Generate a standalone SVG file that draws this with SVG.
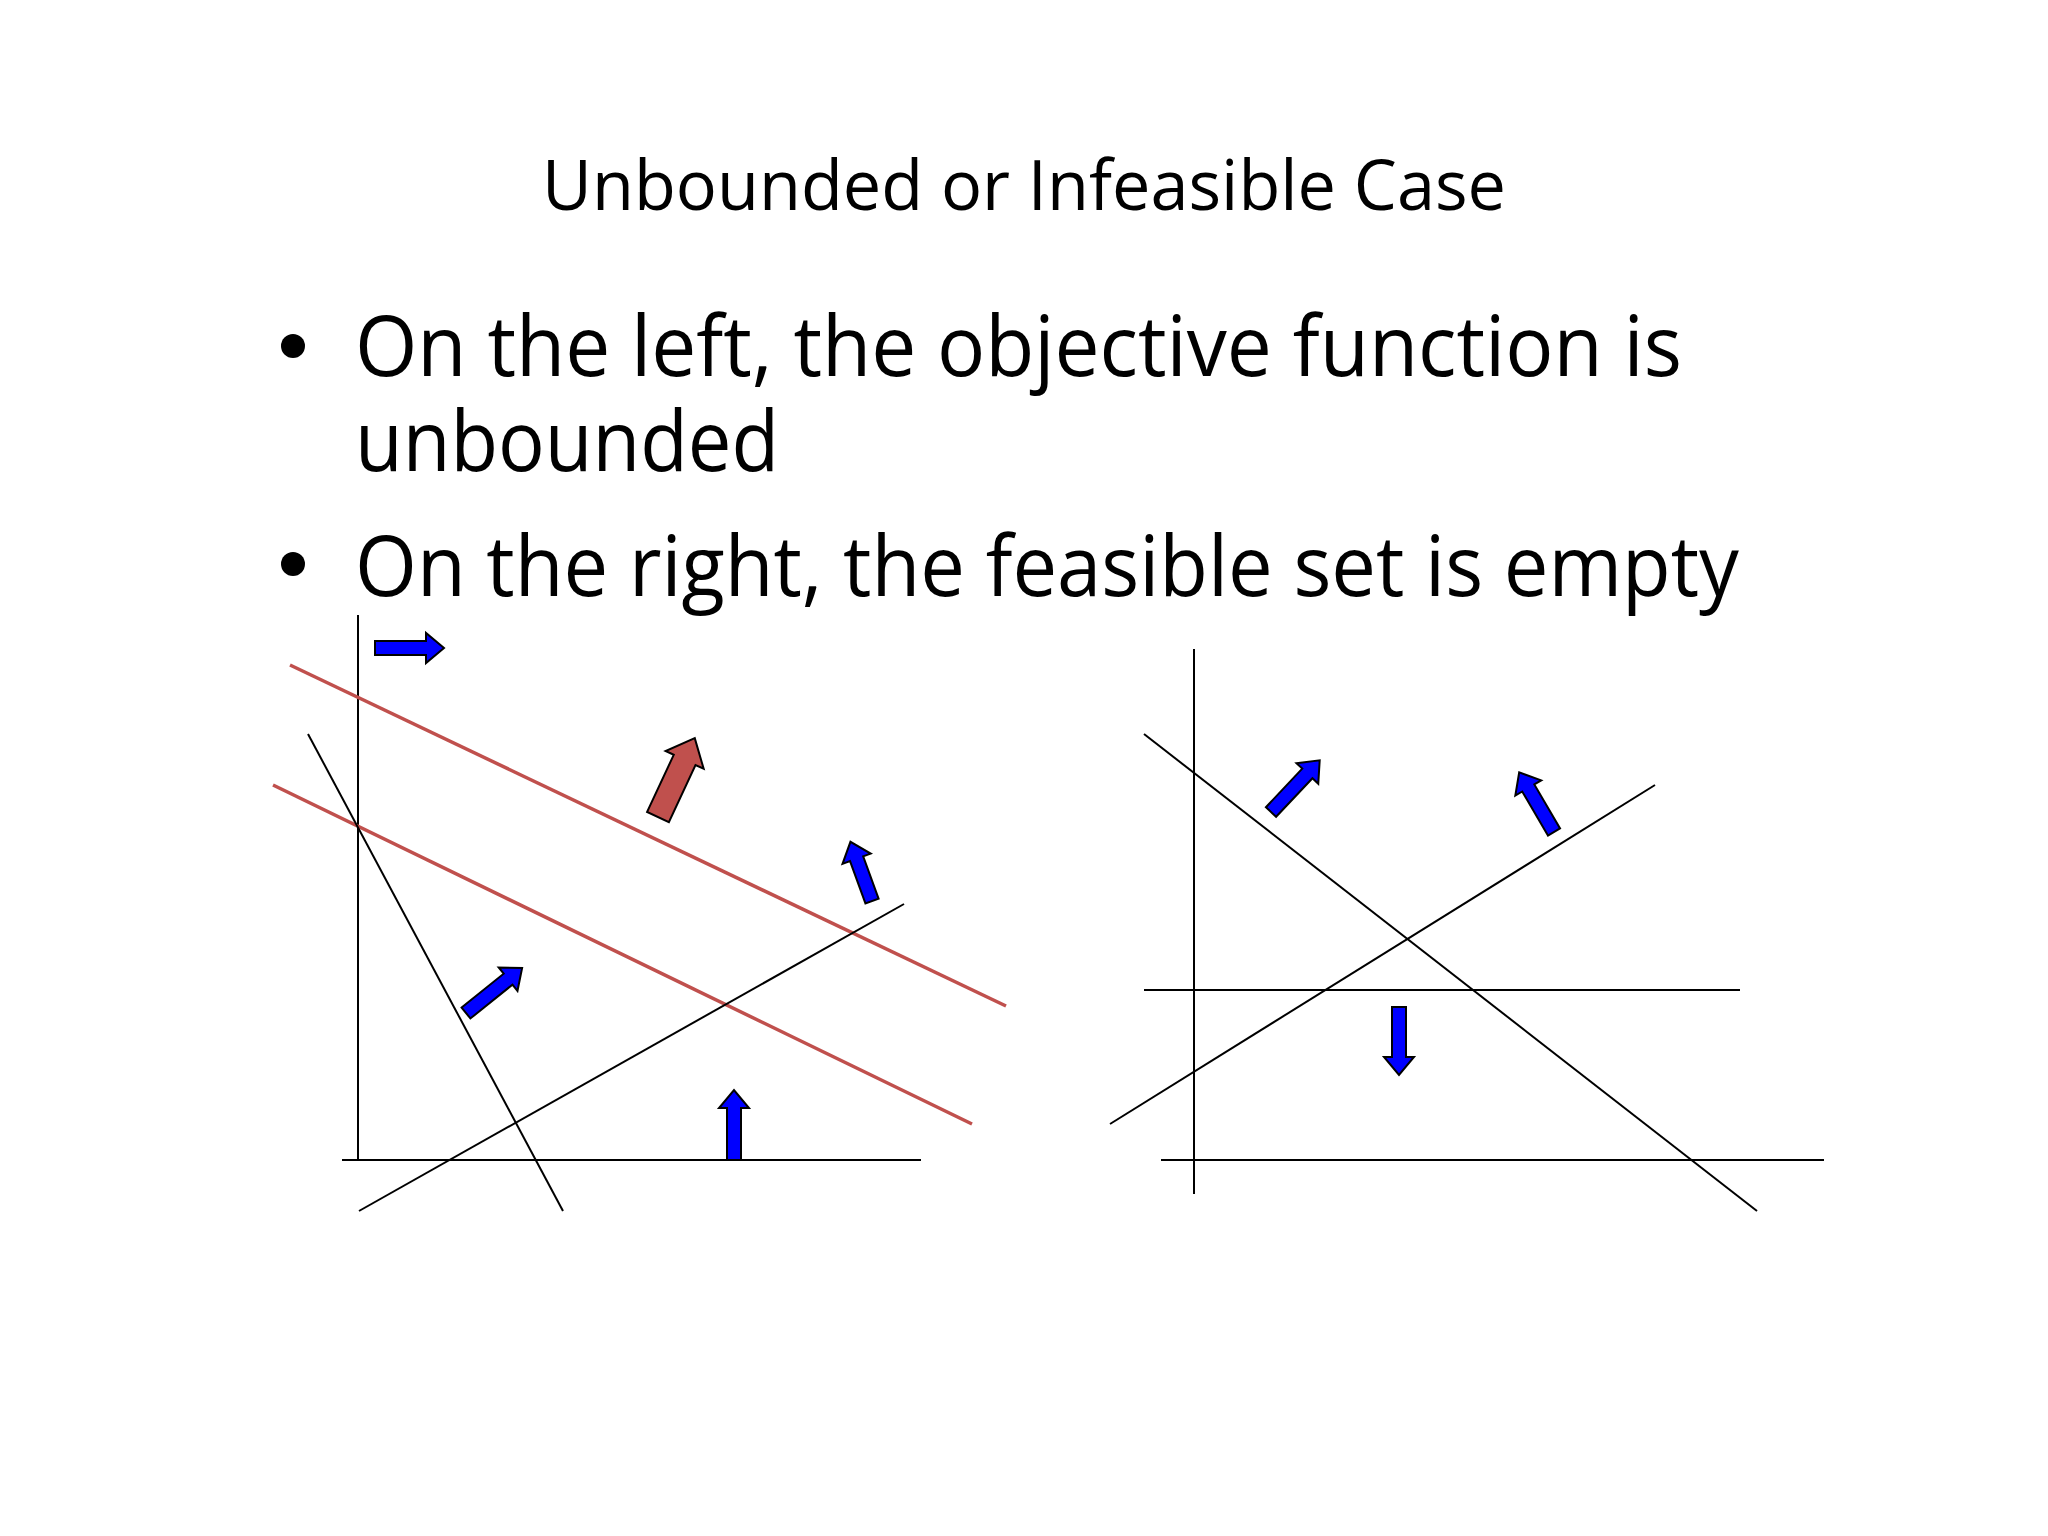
<svg xmlns="http://www.w3.org/2000/svg" width="2048" height="1536" viewBox="0 0 2048 1536">
<style>
text{font-family:"Open Sans","Liberation Sans",sans-serif;fill:#000}
.ln{stroke:#000;stroke-width:2;fill:none}
.rd{stroke:#c0504d;stroke-width:3.5;fill:none}
.ba{fill:#0000ff;stroke:#000;stroke-width:2}
.ra{fill:#c0504d;stroke:#000;stroke-width:2}
</style>
<rect width="2048" height="1536" fill="#fff"/>
<g id="title"><text x="1024" y="210" font-size="70" text-anchor="middle" textLength="964" lengthAdjust="spacingAndGlyphs">Unbounded or Infeasible Case</text></g>
<g id="bullets" font-size="84">
<circle cx="293" cy="346" r="12"/>
<text x="355" y="376" textLength="1327" lengthAdjust="spacingAndGlyphs">On the left, the objective function is</text>
<text x="355" y="471" textLength="424" lengthAdjust="spacingAndGlyphs">unbounded</text>
<circle cx="293" cy="564" r="12"/>
<text x="355" y="596" textLength="1384" lengthAdjust="spacingAndGlyphs">On the right, the feasible set is empty</text>
</g>
<g id="connectors">
<line class="ln" x1="358" y1="615" x2="358" y2="1160"/>
<line class="ln" x1="342" y1="1160" x2="921" y2="1160"/>
<line class="rd" x1="290" y1="665" x2="1006" y2="1006"/>
<line class="rd" x1="273" y1="785" x2="972" y2="1124"/>
<line class="ln" x1="308" y1="734" x2="563" y2="1211"/>
<line class="ln" x1="359" y1="1211" x2="904" y2="904"/>
<line class="ln" x1="1194" y1="649" x2="1194" y2="1194"/>
<line class="ln" x1="1161" y1="1160" x2="1824" y2="1160"/>
<line class="ln" x1="1144" y1="990" x2="1740" y2="990"/>
<line class="ln" x1="1144" y1="734" x2="1757" y2="1211"/>
<line class="ln" x1="1110" y1="1124" x2="1655" y2="785"/>
</g>
<g id="arrows">
<polygon class="ba" transform="translate(375,648)" points="0,-7 51,-7 51,-15 69,0 51,15 51,7 0,7"/>
<polygon class="ra" transform="translate(658,817) rotate(-65)" points="0,-12 63,-12 63,-21 87,0 63,21 63,12 0,12"/>
<polygon class="ba" transform="translate(872,901) rotate(-110)" points="0,-7 45,-7 45,-15 63,0 45,15 45,7 0,7"/>
<polygon class="ba" transform="translate(466,1013) rotate(-38.8)" points="0,-7 54,-7 54,-15 72,0 54,15 54,7 0,7"/>
<polygon class="ba" transform="translate(734,1160) rotate(-90)" points="0,-7 52,-7 52,-15 70,0 52,15 52,7 0,7"/>
<polygon class="ba" transform="translate(1271,812) rotate(-46.7)" points="0,-7 53,-7 53,-15 71,0 53,15 53,7 0,7"/>
<polygon class="ba" transform="translate(1554,832) rotate(-120.3)" points="0,-7 51,-7 51,-15 69,0 51,15 51,7 0,7"/>
<polygon class="ba" transform="translate(1399,1007) rotate(90)" points="0,-7 50,-7 50,-15 68,0 50,15 50,7 0,7"/>
</g>
</svg>
